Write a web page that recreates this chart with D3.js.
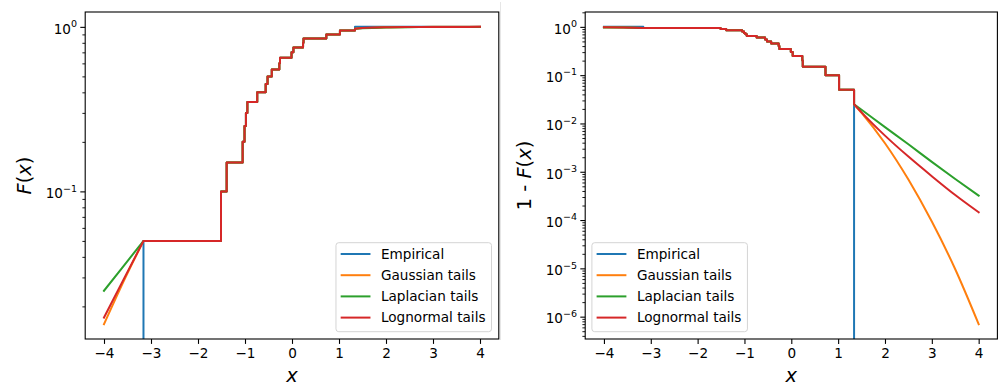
<!DOCTYPE html>
<html>
<head>
<meta charset="utf-8">
<script src="https://cdn.jsdelivr.net/npm/d3@7"></script>
<style>
  html, body { margin: 0; padding: 0; background: #fff; }
  svg { display: block; font-family: "DejaVu Sans", sans-serif; }
</style>
</head>
<body>
<svg id="chart" width="998" height="385"></svg>
<script>
// Ordered sample positions of the empirical distribution
const sampleX = [-3.16, -1.51, -1.39, -1.05, -1.01, -0.98, -0.95, -0.74, -0.56, -0.52,
                 -0.43, -0.27, -0.255, -0.01, 0.03, 0.235, 0.245, 0.73, 1.02, 1.34];
// ECDF level reached at each sample
const ecdfLevels = [0.05, 0.10, 0.15, 0.20, 0.25, 0.30, 0.35, 0.40, 0.45, 0.50,
                    0.55, 0.60, 0.65, 0.70, 0.75, 0.80, 0.85, 0.90, 0.95, 1.00];

// Lower tail models: F(x) below the smallest sample
const lowerTailX = [-4, -3.58, -3.16];
const lowerGaussian = [0.0156, 0.0285, 0.05];
const lowerLaplacian = [0.0249, 0.0353, 0.05];
const lowerLognormal = [0.0171, 0.0293, 0.05];

// Upper tail models: 1 - F(x) above the largest sample
const upperTailX = [1.34, 1.5, 2, 2.5, 3, 3.5, 4];
const upperGaussian = [0.025, 0.0166, 0.0039, 0.00069, 0.000093, 0.0000096, 0.0000007];
const upperLaplacian = [0.025, 0.0192, 0.0084, 0.0037, 0.0016, 0.00071, 0.00032];
const upperLognormal = [0.025, 0.0170, 0.0056, 0.00206, 0.00081, 0.00033, 0.000145];

const xExtent = [-4, 4];
const xTicks = [-4, -3, -2, -1, 0, 1, 2, 3, 4];
const seriesNames = ["Empirical", "Gaussian tails", "Laplacian tails", "Lognormal tails"];
const seriesColors = ["#1f77b4", "#ff7f0e", "#2ca02c", "#d62728"];

const tailModels = [
  { lower: lowerGaussian, upper: upperGaussian },
  { lower: lowerLaplacian, upper: upperLaplacian },
  { lower: lowerLognormal, upper: upperLognormal }
];

const svg = d3.select("#chart");
const TICK_FONT = 13.6, LABEL_FONT = 19.4;
const minus = v => (v < 0 ? "\u2212" + Math.abs(v) : String(v));

// Series for the CDF panel (F) and the survival panel (1 - F)
function buildSeries(survival) {
  const t = v => (survival ? 1 - v : v);
  const n = sampleX.length;
  const empirical = [{ x: xExtent[0], y: t(0) }]
    .concat(sampleX.map((x, i) => ({ x, y: t(ecdfLevels[i]) })))
    .concat([{ x: xExtent[1], y: t(ecdfLevels[n - 1]) }]);
  const tails = tailModels.map(m => {
    const left = lowerTailX.map((x, i) => ({ x, y: t(m.lower[i]) }));
    const mid = sampleX.slice(0, n - 1).map((x, i) => ({ x, y: t(ecdfLevels[i]) }))
      .concat([{ x: sampleX[n - 1], y: survival ? m.upper[0] : 1 - m.upper[0] }]);
    const right = upperTailX.map((x, i) => ({ x, y: survival ? m.upper[i] : 1 - m.upper[i] }));
    return { left, mid, right };
  });
  return { empirical, tails };
}

function drawPanel(cfg) {
  const data = buildSeries(cfg.survival);
  const span = xExtent[1] - xExtent[0];
  const x = d3.scaleLinear()
    .domain([xExtent[0] - 0.05 * span, xExtent[1] + 0.05 * span])
    .range([cfg.left, cfg.right]);

  // log range padded by 5% of the positive data span
  const vals = data.empirical.map(d => d.y);
  data.tails.forEach(s => [s.left, s.mid, s.right].forEach(a => a.forEach(d => vals.push(d.y))));
  const pos = vals.filter(v => v > 0);
  const lo = Math.log10(d3.min(pos)), hi = Math.log10(d3.max(pos));
  const pad = 0.05 * (hi - lo);
  const y = d3.scaleLog().domain([10 ** (lo - pad), 10 ** (hi + pad)]).range([cfg.bottom, cfg.top]);
  const yPos = v => (v > 0 ? y(v) : cfg.bottom + 200);

  const g = svg.append("g");
  const clipId = "clip" + cfg.id;
  g.append("clipPath").attr("id", clipId).append("rect")
    .attr("x", cfg.left).attr("y", cfg.top)
    .attr("width", cfg.right - cfg.left).attr("height", cfg.bottom - cfg.top);

  const lineStep = d3.line().x(d => x(d.x)).y(d => yPos(d.y)).curve(d3.curveStepAfter);
  const lineSmooth = d3.line().x(d => x(d.x)).y(d => yPos(d.y)).curve(d3.curveMonotoneX);
  const join = parts => parts.map((p, i) => (i === 0 ? p : "L" + p.slice(1))).join("");

  const plot = g.append("g").attr("clip-path", `url(#${clipId})`);
  const paths = [lineStep(data.empirical)].concat(
    data.tails.map(s => join([lineSmooth(s.left), lineStep(s.mid), lineSmooth(s.right)]))
  );
  paths.forEach((d, i) => {
    plot.append("path").attr("d", d)
      .attr("fill", "none").attr("stroke", seriesColors[i])
      .attr("stroke-width", 2).attr("stroke-linejoin", "round").attr("stroke-linecap", "square");
  });

  // x axis
  const xAxis = g.append("g").attr("transform", `translate(0,${cfg.bottom})`)
    .call(d3.axisBottom(x).tickValues(xTicks).tickSize(4.9).tickPadding(4.2).tickFormat(minus));
  xAxis.select(".domain").remove();
  xAxis.selectAll("line").attr("stroke", "#000").attr("stroke-width", 1.1);
  xAxis.selectAll("text").attr("font-size", TICK_FONT).attr("fill", "#000")
    .attr("font-family", "DejaVu Sans");

  // y axis: decades and minor ticks
  const dom = y.domain();
  const eLo = Math.ceil(Math.log10(dom[0]) - 1e-9), eHi = Math.floor(Math.log10(dom[1]) + 1e-9);
  const majors = d3.range(eLo, eHi + 1);
  const minors = [];
  for (let e = eLo - 1; e <= eHi; e++) {
    for (let k = 2; k <= 9; k++) {
      const v = k * 10 ** e;
      if (v >= dom[0] && v <= dom[1]) minors.push(v);
    }
  }
  const yMajor = g.append("g").attr("transform", `translate(${cfg.left},0)`)
    .call(d3.axisLeft(y).tickValues(majors.map(e => 10 ** e)).tickSize(4.9).tickFormat(""));
  const yMinor = g.append("g").attr("transform", `translate(${cfg.left},0)`)
    .call(d3.axisLeft(y).tickValues(minors).tickSize(2.8).tickFormat(""));
  [yMajor, yMinor].forEach(a => {
    a.select(".domain").remove();
    a.selectAll("line").attr("stroke", "#000").attr("stroke-width", 0.9);
  });
  yMajor.selectAll("line").attr("stroke-width", 1.1);

  majors.forEach(e => {
    const ty = y(10 ** e);
    const t = g.append("text")
      .attr("x", cfg.left - 8.2).attr("y", ty + 6.8)
      .attr("text-anchor", "end").attr("font-size", TICK_FONT).attr("fill", "#000");
    t.append("tspan").text("10");
    t.append("tspan").attr("font-size", TICK_FONT * 0.7).attr("dy", -6.6).text(minus(e));
  });

  // frame
  g.append("rect")
    .attr("x", cfg.left).attr("y", cfg.top)
    .attr("width", cfg.right - cfg.left).attr("height", cfg.bottom - cfg.top)
    .attr("fill", "none").attr("stroke", "#000").attr("stroke-width", 1.1);

  // axis labels
  const xl = g.append("text")
    .attr("x", (cfg.left + cfg.right) / 2).attr("y", 381.5)
    .attr("text-anchor", "middle").attr("font-size", LABEL_FONT).attr("fill", "#000");
  xl.append("tspan").attr("font-style", "italic").text("x");

  const yl = g.append("text")
    .attr("transform", `translate(${cfg.yLabelX},${(cfg.top + cfg.bottom) / 2}) rotate(-90)`)
    .attr("text-anchor", "middle").attr("font-size", LABEL_FONT).attr("fill", "#000");
  if (cfg.survival) yl.append("tspan").text("1 - ");
  yl.append("tspan").attr("font-style", "italic").text("F");
  yl.append("tspan").text("(");
  yl.append("tspan").attr("font-style", "italic").text("x");
  yl.append("tspan").text(")");

  // legend
  const rowH = 21.2, boxH = 89;
  const lg = g.append("g");
  const box = lg.append("rect").attr("rx", 2.8).attr("ry", 2.8)
    .attr("fill", "#fff").attr("fill-opacity", 0.8)
    .attr("stroke", "#d4d4d4").attr("stroke-width", 1);
  const texts = [];
  seriesNames.forEach((name, i) => {
    const cy = 11.3 + i * rowH;
    lg.append("line").attr("x1", 4.7).attr("x2", 34.5).attr("y1", cy).attr("y2", cy)
      .attr("stroke", seriesColors[i]).attr("stroke-width", 2);
    texts.push(lg.append("text").attr("x", 45).attr("y", cy + 4.9)
      .attr("font-size", TICK_FONT).attr("fill", "#000").text(name));
  });
  const maxLen = d3.max(texts, t => t.node().getComputedTextLength());
  const boxW = 45 + maxLen + 6;
  box.attr("width", boxW).attr("height", boxH);
  const lx = cfg.legendRight ? cfg.right - 7.3 - boxW : cfg.left + 6.7;
  const ly = cfg.bottom - 7.3 - boxH;
  lg.attr("transform", `translate(${lx},${ly})`);
}

// faint edge between the two panels
svg.append("line").attr("x1", 500.5).attr("x2", 500.5).attr("y1", 2).attr("y2", 340)
  .attr("stroke", "#e6e6e6").attr("stroke-width", 1);

drawPanel({ id: 0, survival: false, left: 85.2, right: 498.8, top: 12, bottom: 339,
            yLabelX: 31, legendRight: true });
drawPanel({ id: 1, survival: true, left: 585.2, right: 997.4, top: 12, bottom: 339,
            yLabelX: 531, legendRight: false });
</script>
</body>
</html>
